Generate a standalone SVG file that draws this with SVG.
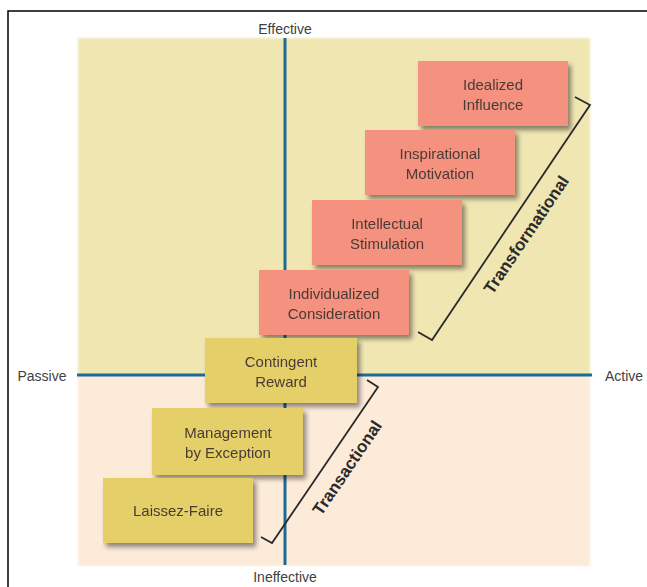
<svg xmlns="http://www.w3.org/2000/svg" width="647" height="587" viewBox="0 0 647 587">
<defs>
<filter id="sh" x="-10%" y="-10%" width="130%" height="140%">
<feGaussianBlur in="SourceAlpha" stdDeviation="2.5"/>
<feOffset dx="3" dy="4" result="b"/>
<feComponentTransfer><feFuncA type="linear" slope="0.45"/></feComponentTransfer>
<feMerge><feMergeNode/><feMergeNode in="SourceGraphic"/></feMerge>
</filter>
<filter id="soft"><feGaussianBlur stdDeviation="1.2"/></filter>
</defs>
<style>
text{font-family:"Liberation Sans","DejaVu Sans",sans-serif;fill:#4a3b36;font-size:15px;text-anchor:middle}
.pink{fill:#f4917f}
.yel{fill:#e5cf69}
.axis{stroke:#1c6b95;stroke-width:3;fill:none}
.br{stroke:#2a2a2a;stroke-width:1.8;fill:none}
.bl{font-weight:bold;font-size:17px;fill:#2b2b2b}
.ax{fill:#3f3f3f;font-size:14px}
</style>
<rect x="8" y="11" width="650" height="590" fill="#fff" stroke="#000" stroke-width="1.5"/>
<g filter="url(#soft)">
<rect x="78" y="38" width="512" height="338" fill="#efe6b2"/>
<rect x="78" y="375" width="512" height="191" fill="#fdebd9"/>
</g>
<g id="axes">
<line class="axis" x1="285" y1="38" x2="285" y2="565"/>
<line class="axis" x1="77" y1="375" x2="592" y2="375"/>
<text class="ax" x="285" y="34">Effective</text>
<text class="ax" x="285" y="582">Ineffective</text>
<text class="ax" x="42" y="381">Passive</text>
<text class="ax" x="624" y="381">Active</text>
</g>
<g id="idealized" filter="url(#sh)">
<rect class="pink" x="418" y="61" width="150" height="65"/>
<text x="493" y="90">Idealized</text><text x="493" y="110">Influence</text>
</g>
<g id="inspirational" filter="url(#sh)">
<rect class="pink" x="365" y="130" width="150" height="65"/>
<text x="440" y="159">Inspirational</text><text x="440" y="179">Motivation</text>
</g>
<g id="intellectual" filter="url(#sh)">
<rect class="pink" x="312" y="200" width="150" height="65"/>
<text x="387" y="229">Intellectual</text><text x="387" y="249">Stimulation</text>
</g>
<g id="individualized" filter="url(#sh)">
<rect class="pink" x="259" y="270" width="150" height="65"/>
<text x="334" y="299">Individualized</text><text x="334" y="319">Consideration</text>
</g>
<g id="contingent" filter="url(#sh)">
<rect class="yel" x="205" y="338" width="152" height="65"/>
<text x="281" y="367">Contingent</text><text x="281" y="387">Reward</text>
</g>
<g id="management" filter="url(#sh)">
<rect class="yel" x="152" y="408" width="151" height="67"/>
<text x="228" y="438">Management</text><text x="228" y="458">by Exception</text>
</g>
<g id="laissez" filter="url(#sh)">
<rect class="yel" x="103" y="478" width="150" height="65"/>
<text x="178" y="516">Laissez-Faire</text>
</g>
<g id="brackets">
<path class="br" d="M418,332 L432,340 L590,105 L575,97"/>
<text class="bl" transform="translate(531,238) rotate(-56)">Transformational</text>
<path class="br" d="M367,380 L378,387 L272,543 L261,537"/>
<text class="bl" transform="translate(352,471) rotate(-56)">Transactional</text>
</g>
</svg>
